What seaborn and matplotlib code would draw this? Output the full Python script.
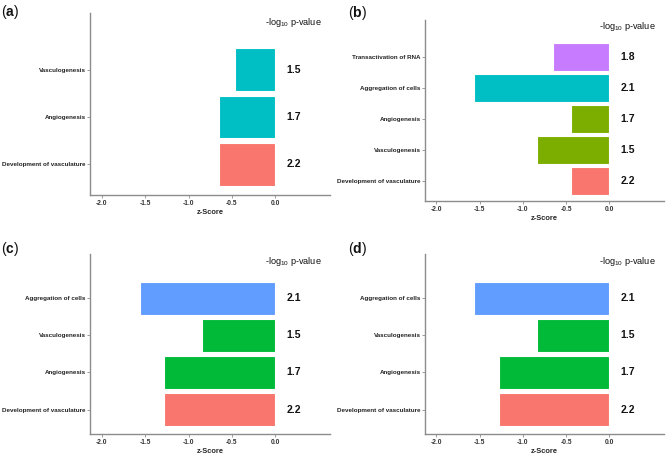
import matplotlib
matplotlib.use("Agg")
import matplotlib.pyplot as plt
import seaborn as sns
import pandas as pd

sns.set_theme(style="white")
plt.rcParams['font.family'] = ['Liberation Sans', 'DejaVu Sans']
plt.rcParams['mathtext.fontset'] = 'custom'
plt.rcParams['mathtext.rm'] = 'Liberation Sans'
plt.rcParams['mathtext.bf'] = 'Liberation Sans:bold'

# ---- data (listed top -> bottom) ----
a_terms = ["Vasculogenesis", "Angiogenesis", "Development of vasculature"]
a_z = [-0.47, -0.65, -0.65]
a_p = ["1.5", "1.7", "2.2"]
a_grp = ["g2", "g2", "g1"]

b_terms = ["Transactivation of RNA", "Aggregation of cells", "Angiogenesis",
           "Vasculogenesis", "Development of vasculature"]
b_z = [-0.65, -1.56, -0.45, -0.84, -0.45]
b_p = ["1.8", "2.1", "1.7", "1.5", "2.2"]
b_grp = ["g4", "g3", "g2", "g2", "g1"]

c_terms = ["Aggregation of cells", "Vasculogenesis", "Angiogenesis",
           "Development of vasculature"]
c_z = [-1.56, -0.84, -1.28, -1.28]
c_p = ["2.1", "1.5", "1.7", "2.2"]
c_grp = ["g3", "g2", "g2", "g1"]

d_terms = ["Aggregation of cells", "Vasculogenesis", "Angiogenesis",
           "Development of vasculature"]
d_z = [-1.56, -0.84, -1.28, -1.28]
d_p = ["2.1", "1.5", "1.7", "2.2"]
d_grp = ["g3", "g2", "g2", "g1"]

pal2 = {"g1": "#F8766D", "g2": "#00BFC4"}
pal4 = {"g1": "#F8766D", "g2": "#7CAE00", "g3": "#00BFC4", "g4": "#C77CFF"}
pal3 = {"g1": "#F8766D", "g2": "#00BA38", "g3": "#619CFF"}

x_ticks = [-2.0, -1.5, -1.0, -0.5, 0.0]
x_ticklabels = ["-2.0", "-1.5", "-1.0", "-0.5", "0.0"]

fig = plt.figure(figsize=(6.67, 4.54), dpi=100)

W, H = 667.0, 454.0
def box(l, r, t, b):
    return [l / W, 1 - b / H, (r - l) / W, (b - t) / H]

panels = [
    ("a", a_terms, a_z, a_p, a_grp, pal2, box(90, 330, 13, 195), (10, 12)),
    ("b", b_terms, b_z, b_p, b_grp, pal4, box(424.7, 664, 20, 201), (357, 13)),
    ("c", c_terms, c_z, c_p, c_grp, pal3, box(90, 330, 253.7, 433.7), (10, 249)),
    ("d", d_terms, d_z, d_p, d_grp, pal3, box(424.7, 664, 253.7, 433.7), (357, 249)),
]

spine_col = "#8c8c8c"
for letter, terms, z, p, grp, pal, rect, lab in panels:
    ax = fig.add_axes(rect)
    df = pd.DataFrame({"term": terms, "z": z, "grp": grp})
    sns.barplot(data=df, x="z", y="term", hue="grp", palette=pal, order=terms,
                dodge=False, width=0.9, edgecolor="white", linewidth=0.8,
                saturation=1, legend=False, ax=ax, orient="h")
    n = len(terms)
    ax.set_xlim(-2.135, 0.63)
    ax.set_ylim(n - 1 + 0.65, -1.2)
    ax.set_xticks(x_ticks)
    ax.set_xticklabels(x_ticklabels, fontsize=4.8, fontweight="bold", color="#333333")
    ax.set_yticks(range(n))
    ax.set_yticklabels(terms, fontsize=4.5, fontweight="bold", color="#222222")
    ax.set_xlabel("z-Score", fontsize=5.4, fontweight="bold", labelpad=1.5)
    ax.set_ylabel("")
    for s in ["top", "right"]:
        ax.spines[s].set_visible(False)
    for s in ["left", "bottom"]:
        ax.spines[s].set_color(spine_col)
        ax.spines[s].set_linewidth(1.0)
    ax.tick_params(axis="x", length=2, width=0.6, color=spine_col, pad=1.5,
                   bottom=True)
    ax.tick_params(axis="y", length=2, width=0.6, color=spine_col, pad=1.0,
                   left=True)
    for i, v in enumerate(p):
        ax.text(0.21, i, v, fontsize=7.5, fontweight="bold", ha="center",
                va="center", color="#111111")
    ax.text(0.21, -1, r"-log$_{10}$ p-value", fontsize=6.6, ha="center",
            va="center", color="#111111")
    fig.text(lab[0] / W, 1 - lab[1] / H, r"($\mathbf{" + letter + r"}$)",
             fontsize=10, ha="center", va="center", color="#111111")

fig.savefig("out.png", dpi=100, facecolor="white")
